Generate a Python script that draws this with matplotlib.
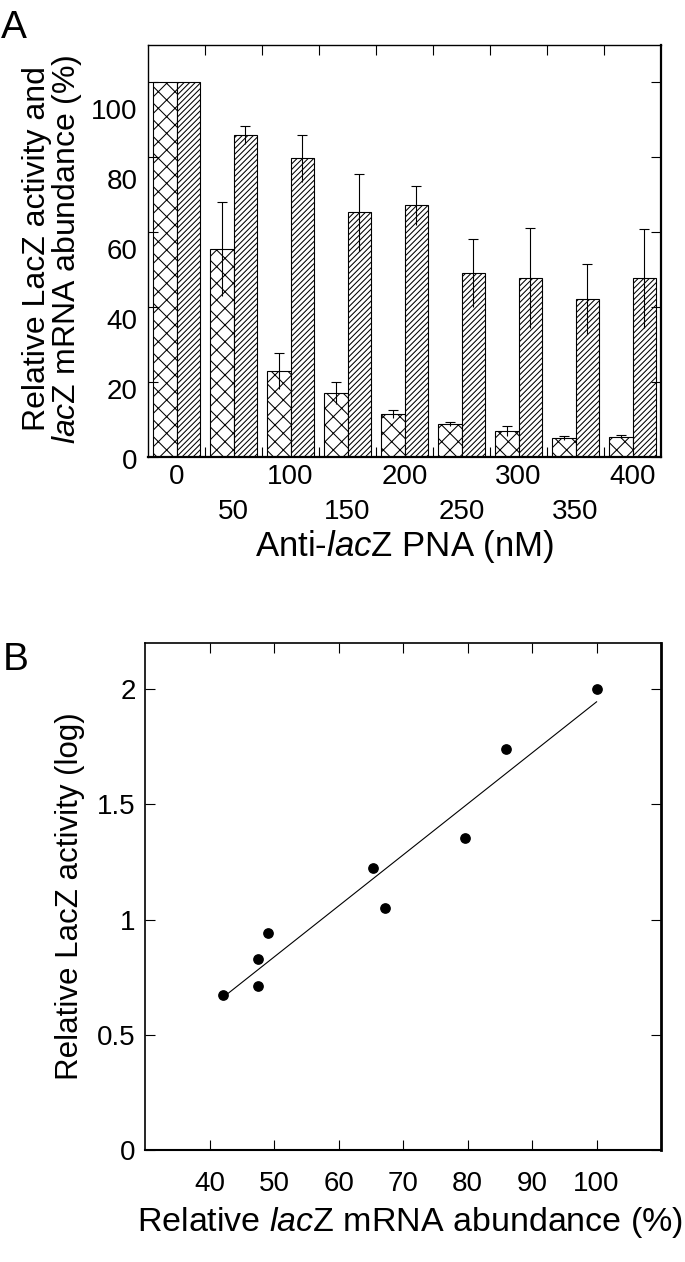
import numpy as np
import matplotlib
matplotlib.use("Agg")
import matplotlib.pyplot as plt
import matplotlib.transforms as mtransforms

plt.rcParams['font.family'] = ['Liberation Sans', 'DejaVu Sans']
plt.rcParams['mathtext.fontset'] = 'custom'
plt.rcParams['mathtext.rm'] = 'Liberation Sans'
plt.rcParams['mathtext.it'] = 'Liberation Sans:italic'
plt.rcParams['hatch.linewidth'] = 0.75

# panel A: relative LacZ activity / lacZ mRNA vs PNA concentration
pna_conc = ['0', '50', '100', '150', '200', '250', '300', '350', '400']
lacz_activity = [100, 55.5, 22.9, 17.1, 11.5, 8.8, 6.9, 5.1, 5.4]
lacz_activity_err = [0, 12.5, 4.8, 3.0, 1.0, 0.6, 1.4, 0.6, 0.4]
mrna_abundance = [100, 85.9, 79.7, 65.3, 67.2, 49.1, 47.7, 42.1, 47.7]
mrna_abundance_err = [0, 2.4, 6.2, 10.3, 5.2, 9.0, 13.4, 9.4, 13.2]
yticks_a = [0, 20, 40, 60, 80, 100]

# panel B: log LacZ activity vs mRNA abundance
mrna_b = [100, 86.0, 79.6, 65.3, 67.2, 49.0, 47.5, 47.5, 42.1]
log_activity_b = [2.0, 1.741, 1.353, 1.223, 1.049, 0.940, 0.828, 0.710, 0.675]
xticks_b = [40, 50, 60, 70, 80, 90, 100]
yticks_b = [0, 0.5, 1, 1.5, 2]
yticklabels_b = ['0', '0.5', '1', '1.5', '2']

fig = plt.figure(figsize=(6.85, 12.62), dpi=100)
ax_a = fig.add_axes([0.2161, 0.6379, 0.7489, 0.3265])
ax_b = fig.add_axes([0.2124, 0.0887, 0.7526, 0.4017])

# ---- panel A ----
x = np.arange(len(pna_conc))
w = 0.41
ax_a.bar(x - w / 2, lacz_activity, w, color='white', edgecolor='black',
         linewidth=0.8, hatch='xx')
ax_a.bar(x + w / 2, mrna_abundance, w, color='white', edgecolor='black',
         linewidth=0.8, hatch='//////')

for xs, vals, errs in [(x - w / 2, lacz_activity, lacz_activity_err),
                       (x + w / 2, mrna_abundance, mrna_abundance_err)]:
    keep = [i for i in range(len(errs)) if errs[i] > 0]
    eb = ax_a.errorbar([xs[i] for i in keep], [vals[i] for i in keep],
                       yerr=[errs[i] for i in keep], fmt='none', ecolor='black',
                       elinewidth=0.8, capsize=3.5, capthick=0.8)
    # only the upper cap shows in the original
    eb[1][0].set_visible(False)

ax_a.set_xlim(-0.5, 8.5)
ax_a.set_ylim(0, 110)
ax_a.set_xticks(x)
ax_a.set_xticklabels([c if i % 2 == 0 else '\n' + c for i, c in enumerate(pna_conc)],
                     fontsize=20, linespacing=1.45)
ax_a.set_xticks(x[:-1] + 0.5, minor=True)
ax_a.tick_params(axis='x', which='major', length=0, pad=5)
ax_a.tick_params(axis='x', which='minor', direction='in', length=7, width=0.8,
                 top=True, bottom=True)
ax_a.set_yticks(yticks_a)
ax_a.set_yticklabels([])
ax_a.tick_params(axis='y', direction='in', length=7, width=0.8, left=True, right=True)

# numbers on the y axis of the source are set a bit off the tick marks
trans = mtransforms.blended_transform_factory(ax_a.transAxes, ax_a.transData)
for v in yticks_a:
    ax_a.text(-0.021, -1.335 + 0.9346 * v, str(v), transform=trans,
              ha='right', va='center', fontsize=20)

ax_a.set_xlabel('Anti-$\\mathit{lac}$Z PNA (nM)', fontsize=25, labelpad=2)
fig.text(53 / 685, 1 - 249 / 1262,
         'Relative LacZ activity and\n$\\mathit{lac}$Z mRNA abundance (%)',
         rotation=90, ha='center', va='center', multialignment='center',
         fontsize=23, linespacing=0.95)

for side in ['left', 'top']:
    ax_a.spines[side].set_linewidth(1.0)
for side in ['right', 'bottom']:
    ax_a.spines[side].set_linewidth(1.6)

# ---- panel B ----
ax_b.scatter(mrna_b, log_activity_b, s=45, color='black', zorder=3)
slope, intercept = np.polyfit(mrna_b, log_activity_b, 1)
fit_x = np.array([min(mrna_b), max(mrna_b)])
ax_b.plot(fit_x, slope * fit_x + intercept, color='black', linewidth=0.8)

ax_b.set_xlim(30, 110)
ax_b.set_ylim(0, 2.2)
ax_b.set_xticks(xticks_b)
ax_b.set_yticks(yticks_b)
ax_b.set_yticklabels(yticklabels_b)
ax_b.tick_params(axis='both', direction='in', length=7, width=0.8,
                 top=True, right=True, labelsize=20)
ax_b.tick_params(axis='x', pad=15)
ax_b.tick_params(axis='y', pad=7)
ax_b.set_xlabel('Relative $\\mathit{lac}$Z mRNA abundance (%)', fontsize=24.5, labelpad=6)
ax_b.xaxis.label.set_x(0.513)
ax_b.set_ylabel('Relative LacZ activity (log)', fontsize=22.5, labelpad=9)

for side in ['left', 'top']:
    ax_b.spines[side].set_linewidth(1.2)
ax_b.spines['bottom'].set_linewidth(1.5)
ax_b.spines['right'].set_linewidth(2.0)

fig.text(14 / 685, 1 - 28 / 1262, 'A', fontsize=28, ha='center', va='center')
fig.text(16 / 685, 1 - 660 / 1262, 'B', fontsize=28, ha='center', va='center')

fig.savefig('out.png', dpi=100)
